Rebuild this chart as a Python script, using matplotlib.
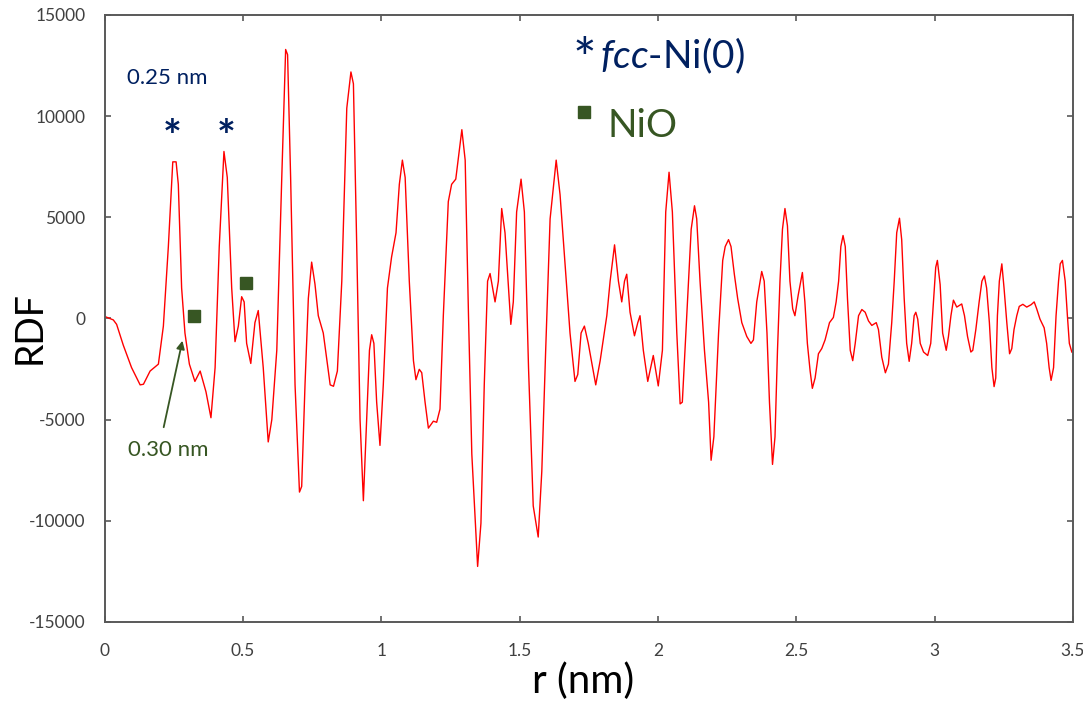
import numpy as np
import matplotlib
matplotlib.use("Agg")
import matplotlib.pyplot as plt

plt.rcParams['font.family'] = ['Lato', 'DejaVu Sans']
plt.rcParams['mathtext.fontset'] = 'custom'
plt.rcParams['mathtext.rm'] = 'Lato'
plt.rcParams['mathtext.it'] = 'Lato:italic'
plt.rcParams['axes.unicode_minus'] = False

# RDF curve (r in nm)
r = [0.0, 0.031, 0.043, 0.067, 0.097, 0.128, 0.140, 0.164, 0.194, 0.212,
     0.230, 0.246, 0.258, 0.266, 0.278, 0.290, 0.306, 0.326, 0.345, 0.366,
     0.384, 0.399, 0.414, 0.431, 0.443, 0.459, 0.471, 0.483, 0.495, 0.504,
     0.513, 0.528, 0.543, 0.555, 0.573, 0.591, 0.604, 0.622, 0.640, 0.654,
     0.661, 0.672, 0.688, 0.704, 0.712, 0.724, 0.736, 0.748, 0.760, 0.772,
     0.790, 0.815, 0.827, 0.841, 0.857, 0.875, 0.890, 0.899, 0.911, 0.923,
     0.935, 0.947, 0.957, 0.965, 0.973, 0.983, 0.995, 1.007, 1.022, 1.037,
     1.053, 1.065, 1.076, 1.086, 1.101, 1.116, 1.125, 1.137, 1.146, 1.158,
     1.170, 1.188, 1.200, 1.212, 1.224, 1.242, 1.254, 1.269, 1.291, 1.303,
     1.315, 1.327, 1.348, 1.360, 1.372, 1.384, 1.393, 1.411, 1.423, 1.435,
     1.447, 1.468, 1.477, 1.489, 1.505, 1.517, 1.532, 1.549, 1.567, 1.580,
     1.594, 1.610, 1.632, 1.646, 1.664, 1.682, 1.700, 1.710, 1.722, 1.734,
     1.748, 1.775, 1.791, 1.815, 1.827, 1.843, 1.857, 1.869, 1.879, 1.887,
     1.899, 1.915, 1.927, 1.935, 1.947, 1.963, 1.983, 2.001, 2.016, 2.028,
     2.040, 2.052, 2.068, 2.080, 2.088, 2.104, 2.120, 2.132, 2.140, 2.152,
     2.168, 2.183, 2.192, 2.202, 2.219, 2.234, 2.243, 2.255, 2.264, 2.276,
     2.288, 2.303, 2.321, 2.336, 2.345, 2.357, 2.375, 2.384, 2.394, 2.403,
     2.414, 2.423, 2.432, 2.441, 2.450, 2.459, 2.468, 2.477, 2.487, 2.495,
     2.507, 2.522, 2.531, 2.540, 2.550, 2.558, 2.568, 2.580, 2.592, 2.604,
     2.620, 2.634, 2.644, 2.653, 2.661, 2.669, 2.677, 2.685, 2.695, 2.704,
     2.713, 2.725, 2.737, 2.749, 2.761, 2.773, 2.789, 2.797, 2.809, 2.822,
     2.833, 2.845, 2.854, 2.863, 2.873, 2.881, 2.890, 2.899, 2.908, 2.917,
     2.926, 2.932, 2.939, 2.948, 2.960, 2.975, 2.986, 2.996, 3.004, 3.010,
     3.020, 3.029, 3.042, 3.050, 3.059, 3.068, 3.080, 3.090, 3.098, 3.108,
     3.119, 3.131, 3.138, 3.149, 3.161, 3.171, 3.180, 3.188, 3.198, 3.207,
     3.215, 3.221, 3.227, 3.234, 3.243, 3.251, 3.261, 3.271, 3.279, 3.287,
     3.297, 3.306, 3.319, 3.333, 3.349, 3.360, 3.369, 3.381, 3.396, 3.405,
     3.414, 3.421, 3.430, 3.439, 3.448, 3.454, 3.462, 3.472, 3.480, 3.487,
     3.496]
rdf = [100, -70, -290, -1316, -2427, -3281, -3250, -2598, -2256, -376,
       3555, 7742, 7742, 6631, 1504, -718, -2256, -3110, -2598, -3623,
       -4905, -2427, 3555, 8255, 6973, 1504, -1145, -376, 1077, 820,
       -1230, -2222, -205, 393, -2427, -6101, -5000, -1572, 6973, 13296,
       13040, 6973, -3281, -8579, -8300, -3281, 991, 2786, 1700, 137,
       -718, -3281, -3350, -2598, 1846, 10391, 12185, 11600, 3555, -4990,
       -9006, -5000, -1572, -803, -1230, -4136, -6272, -3281, 1504, 3042,
       4238, 6631, 7827, 6973, 1846, -2085, -3025, -2512, -2680, -4136,
       -5418, -5076, -5130, -4478, 137, 5776, 6631, 6887, 9331, 7827,
       137, -6699, -12254, -10117, -3281, 1846, 2222, 820, 1846, 5435,
       4238, -290, 820, 5264, 6887, 5264, -2427, -9263, -10801, -7554,
       -1572, 4922, 7827, 6118, 2700, -718, -3110, -2770, -718, -376,
       -1230, -3281, -2085, 137, 1846, 3640, 1846, 820, 1846, 2188,
       308, -855, -205, 137, -1572, -3110, -1829, -3333, -1572, 5264,
       7229, 5264, -718, -4221, -4136, 137, 4409, 5571, 4922, 1846,
       -1572, -4136, -7007, -5845, -718, 2871, 3555, 3897, 3555, 2188,
       991, -205, -889, -1230, -1060, 820, 2324, 1846, -718, -4136,
       -7212, -5845, -1572, 1846, 4409, 5435, 4580, 1846, 479, 137,
       1162, 2273, 820, -1230, -2598, -3452, -2940, -1743, -1487, -1060,
       -205, 51, 820, 1846, 3555, 4102, 3555, 991, -1572, -2085,
       -1230, 137, 444, 308, -120, -342, -205, -547, -1914, -2683,
       -2256, -205, 1846, 4238, 4956, 3897, 991, -1230, -2119, -1230,
       137, 308, -34, -1230, -1658, -1829, -1230, 820, 2529, 2871,
       1674, -718, -1572, -889, 137, 906, 564, 650, 718, 137,
       -889, -1658, -1572, -547, 820, 1846, 2102, 1504, -205, -2427,
       -3367, -2940, 137, 1846, 2700, 1504, -205, -1743, -1487, -547,
       137, 598, 700, 564, 684, 820, 479, -34, -461, -1230,
       -2427, -3059, -2427, 137, 1846, 2700, 2871, 1846, 137, -1230,
       -1658]

# annotation marks
fcc_r = [0.2445, 0.4385]
fcc_y = [9643, 9643]
nio_r = [0.323, 0.511]
nio_y = [99, 1778]

navy = '#002060'
green = '#375623'
grey = '#404040'

fig = plt.figure(figsize=(10.83, 7.04), dpi=100)
ax = fig.add_axes([0.0967, 0.1165, 0.894, 0.8622])

ax.plot(r, rdf, color='#ff0000', lw=1.0)

ax.set_xlim(0, 3.5)
ax.set_ylim(-15000, 15000)
ax.set_xticks(np.arange(0, 3.51, 0.5))
ax.set_xticklabels(['0', '0.5', '1', '1.5', '2', '2.5', '3', '3.5'])
ax.set_yticks(np.arange(-15000, 15001, 5000))
ax.tick_params(direction='in', length=4, width=1.2, colors='#595959',
               labelcolor=grey, labelsize=12.5, top=True, right=True)
ax.tick_params(axis='x', pad=15)
ax.tick_params(axis='y', pad=14)
for s in ax.spines.values():
    s.set_color('#595959')
    s.set_linewidth(1.4)

fig.text(30 / 1083, 1 - 328 / 704, 'RDF', fontsize=27, rotation=90,
         ha='center', va='center')
fig.text(0.538, 0.016, 'r (nm)', fontsize=29, ha='center', va='baseline')

# fcc-Ni(0) peaks
for xi, yi in zip(fcc_r, fcc_y):
    ax.text(xi, yi - 700, '*', fontsize=32, fontweight='bold', color=navy,
            ha='center', va='center')
ax.text(0.081, 11881, '0.25 nm', fontsize=16, color=navy, va='center')

# NiO
ax.plot(nio_r, nio_y, 's', color=green, ms=8.5, ls='none')
ax.annotate('', xy=(0.283, -963), xytext=(0.211, -5508),
            arrowprops=dict(arrowstyle='-|>', color=green, lw=1.3,
                            mutation_scale=12))
ax.text(0.084, -6496, '0.30 nm', fontsize=16, color=green, va='center')

# legend-like labels
ax.text(1.735, 12650, '*', fontsize=40, color=navy, ha='center',
        va='center')
ax.text(1.791, 12375, r'$\mathit{fcc}$-Ni(0)', fontsize=28, color=navy,
        va='baseline')
ax.plot([1.733], [10226], 's', color=green, ms=8)
ax.text(1.816, 8966, 'NiO', fontsize=28, color=green, va='baseline')

fig.savefig('out.png', dpi=100)
